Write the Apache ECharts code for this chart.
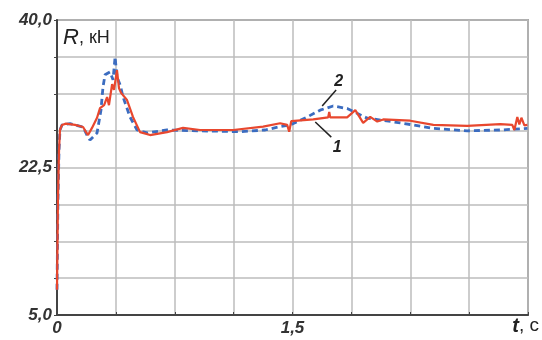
<!DOCTYPE html>
<html><head><meta charset="utf-8">
<script src="https://cdn.jsdelivr.net/npm/echarts@6/dist/echarts.min.js"></script>
<style>html,body{margin:0;padding:0;background:#fff}#c{width:542px;height:340px}</style>
</head><body><div id="c"></div>
<script>
// time (s) and force (kN) for curve 1 (red, solid)
var t1 = [0,0.006,0.013,0.019,0.032,0.057,0.115,0.166,0.185,0.198,0.223,0.255,0.274,0.3,0.319,0.331,0.351,0.363,0.382,0.395,0.408,0.446,0.484,0.529,0.593,0.701,0.803,0.911,1.122,1.313,1.421,1.466,1.479,1.492,1.632,1.727,1.734,1.74,1.848,1.9,1.95,1.995,2.04,2.078,2.25,2.397,2.613,2.824,2.9,2.913,2.932,2.945,2.958,2.977,2.996];
var r1 = [8.0,18.6,24.6,26.95,27.55,27.7,27.55,27.3,26.7,26.35,27.2,28.4,29.55,29.9,30.85,29.9,32.4,31.7,34.05,31.9,31.35,30.5,28.5,26.7,26.35,26.7,27.2,26.95,26.95,27.35,27.75,27.55,26.75,28.0,28.2,28.45,29.1,28.45,28.45,29.3,27.8,28.5,27.95,28.2,28.05,27.55,27.45,27.65,27.55,26.95,28.5,27.6,28.4,27.5,27.55];
// curve 2 (blue, dashed)
var t2 = [0,0.006,0.013,0.019,0.032,0.083,0.166,0.191,0.21,0.255,0.28,0.293,0.306,0.338,0.357,0.37,0.382,0.402,0.421,0.465,0.51,0.574,0.701,0.911,1.166,1.326,1.421,1.485,1.594,1.676,1.759,1.848,1.976,2.186,2.397,2.613,2.824,2.996];
var r2 = [8.0,18.6,24.6,26.95,27.55,27.7,27.3,26.35,25.75,26.6,29.3,32.05,33.5,33.85,32.9,35.6,33.25,32.3,30.85,28.5,26.95,26.6,26.95,26.85,26.75,26.95,27.35,27.55,28.5,29.3,29.8,29.5,28.35,27.8,27.15,26.85,26.95,27.15];
var xTickLabels = {0:'0', 1.5:'1,5'};
var yTickLabels = {5:'5,0', 22.5:'22,5', 40:'40,0'};
// annotation leader lines in data coords: [t0,v0,t1,v1], label position and text
var leaders = [[1.689,29.8,1.778,31.7],[1.645,27.9,1.747,26.1]];
var leaderLabels = [[1.795,32.7,'2'],[1.785,24.9,'1']];

function zip(a,b){return a.map(function(x,i){return [x,b[i]];});}
var chart = echarts.init(document.getElementById('c'));
var fontFam = 'Liberation Sans, Arial, sans-serif';
chart.setOption({
  animation:false,
  grid:{left:57,right:14,top:20,bottom:25,show:true,borderColor:'#666',borderWidth:1.5},
  xAxis:{type:'value',min:0,max:3,interval:0.375,
    axisLine:{lineStyle:{color:'#444',width:2}},
    axisTick:{show:true,length:3,inside:true,lineStyle:{color:'#444'}},
    splitLine:{lineStyle:{color:'#bdbdbd',width:1.5}},
    axisLabel:{margin:5,fontSize:17,fontStyle:'italic',fontWeight:'bold',color:'#333',fontFamily:fontFam,
      formatter:function(v){var k=Math.round(v*1000)/1000;return xTickLabels[k]!==undefined?xTickLabels[k]:'';}}},
  yAxis:{type:'value',min:5,max:40,interval:4.375,
    axisLine:{lineStyle:{color:'#444',width:2}},
    axisTick:{show:true,length:3,lineStyle:{color:'#444'}},
    splitLine:{lineStyle:{color:'#bdbdbd',width:1.5}},
    axisLabel:{margin:5,fontSize:17,fontStyle:'italic',fontWeight:'bold',color:'#333',fontFamily:fontFam,
      formatter:function(v){var k=Math.round(v*1000)/1000;return yTickLabels[k]!==undefined?yTickLabels[k]:'';}}},
  series:[
    {type:'line',data:zip(t2,r2),showSymbol:false,lineStyle:{color:'#3b6cc0',width:2.8,type:[6,4]},z:2},
    {type:'line',data:zip(t1,r1),showSymbol:false,lineStyle:{color:'#e8472e',width:2.2},z:3}
  ]
});
var g = [];
leaders.forEach(function(l){
  var p0=chart.convertToPixel({gridIndex:0},[l[0],l[1]]);
  var p1=chart.convertToPixel({gridIndex:0},[l[2],l[3]]);
  g.push({type:'line',shape:{x1:p0[0],y1:p0[1],x2:p1[0],y2:p1[1]},style:{stroke:'#222',lineWidth:1.5},z:10});
});
leaderLabels.forEach(function(l){
  var p=chart.convertToPixel({gridIndex:0},[l[0],l[1]]);
  g.push({type:'text',x:p[0],y:p[1],style:{text:l[2],font:'italic bold 16px '+fontFam,fill:'#222',align:'center',verticalAlign:'middle'},z:10});
});
g.push({type:'text',left:63,top:27,style:{text:'{a|R}{b|, кН}',rich:{a:{fontSize:22,fontStyle:'italic',fontFamily:fontFam,fill:'#222'},b:{fontSize:18,fontFamily:fontFam,fill:'#222'}}},z:10});
g.push({type:'text',right:3,top:316,style:{text:'{a|t}{b|, с}',rich:{a:{fontSize:20,fontStyle:'italic',fontWeight:'bold',fontFamily:fontFam,fill:'#222'},b:{fontSize:19,fontFamily:fontFam,fill:'#222'}}},z:10});
chart.setOption({graphic:g});
</script></body></html>
